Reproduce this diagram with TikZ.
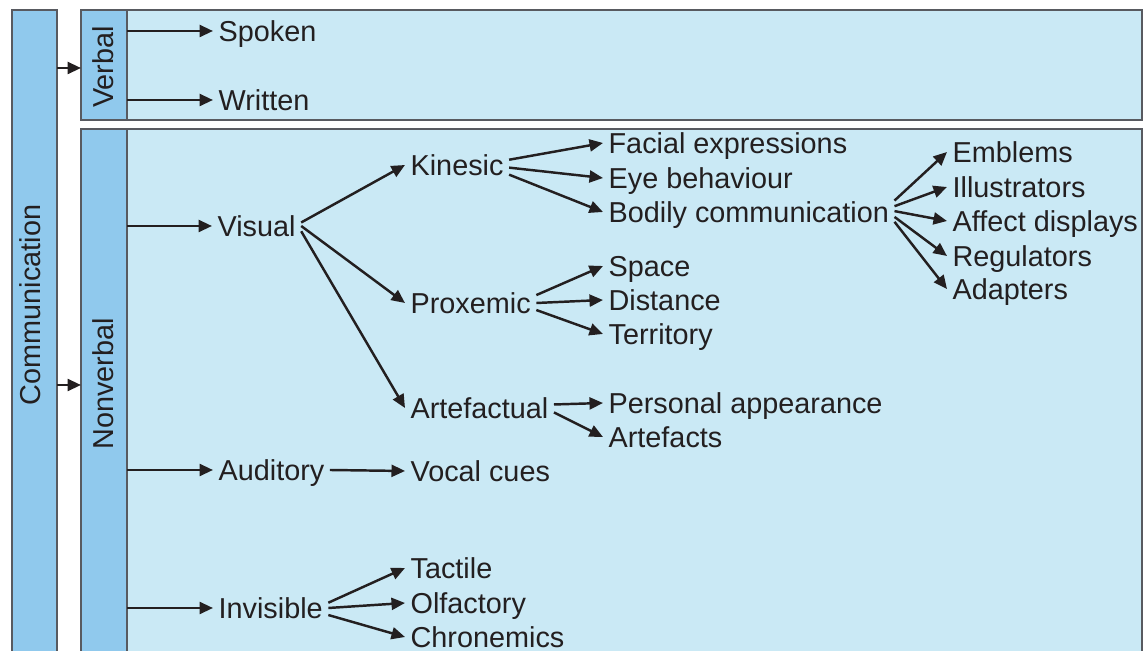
\documentclass[tikz,border=0pt]{standalone}
\usepackage{fontspec}
\setmainfont{Liberation Sans}
\usetikzlibrary{arrows.meta}
\definecolor{barBleu}{RGB}{144,201,237}
\definecolor{fondBleu}{RGB}{202,233,245}
\definecolor{bordGris}{RGB}{88,90,96}
\definecolor{encre}{RGB}{35,31,32}

\begin{document}
\begin{tikzpicture}[x=0.02cm, y=-0.02cm, font=\fontsize{16.4}{20}\selectfont,
    lbl/.style={anchor=west, inner xsep=3pt, inner ysep=0pt, text height=1.14em, text depth=0pt, text=encre},
    barlbl/.style={rotate=90, inner sep=0pt, text height=0.72em, text depth=0pt, text=encre},
    fleche/.style={-{Triangle[length=2.7mm,width=2.4mm]}, encre, line width=1.4pt}]

\useasboundingbox (0,0) rectangle (1144,651);
\clip (0,0) rectangle (1144,651);

\draw[fill=barBleu, draw=bordGris, line width=0.8pt] (12,10) rectangle (57,680);
\draw[fill=fondBleu, draw=bordGris, line width=0.8pt] (81,10) rectangle (1142,120);
\draw[fill=barBleu, draw=bordGris, line width=0.8pt] (81,10) rectangle (127,120);
\draw[fill=fondBleu, draw=bordGris, line width=0.8pt] (81,129) rectangle (1142,680);
\draw[fill=barBleu, draw=bordGris, line width=0.8pt] (81,129) rectangle (127,680);

\node[barlbl] (communication) at (34,305) {Communication};
\node[barlbl] (verbal) at (107,67) {Verbal};
\node[barlbl] (nonverbal) at (107,384) {Nonverbal};

\coordinate (commEdge) at (57,0);
\coordinate (toVerbal) at (81,68);
\coordinate (toNonverbal) at (81,385);
\coordinate (panelEdge) at (127,0);

\node[lbl] (spoken) at (213,31) {Spoken};
\node[lbl] (written) at (213,100) {Written};
\node[lbl] (visual) at (212,226) {Visual};
\node[lbl] (auditory) at (213,470) {Auditory};
\node[lbl] (invisible) at (213,608) {Invisible};

\node[lbl] (kinesic) at (405,165) {Kinesic};
\node[lbl] (proxemic) at (405,303) {Proxemic};
\node[lbl] (artefactual) at (405,408) {Artefactual};
\node[lbl] (vocal) at (405,471) {Vocal cues};
\node[lbl] (tactile) at (405,568) {Tactile};
\node[lbl] (olfactory) at (405,603) {Olfactory};
\node[lbl] (chronemics) at (405,637) {Chronemics};

\node[lbl] (facial) at (603,143) {Facial expressions};
\node[lbl] (eye) at (603,178) {Eye behaviour};
\node[lbl] (bodily) at (603,212) {Bodily communication};
\node[lbl] (space) at (603,266) {Space};
\node[lbl] (distance) at (603,300) {Distance};
\node[lbl] (territory) at (603,334) {Territory};
\node[lbl] (personal) at (603,403) {Personal appearance};
\node[lbl] (artefacts) at (603,437) {Artefacts};

\node[lbl] (emblems) at (947,152) {Emblems};
\node[lbl] (illustrators) at (947,187) {Illustrators};
\node[lbl] (affect) at (947,221) {Affect displays};
\node[lbl] (regulators) at (947,256) {Regulators};
\node[lbl] (adapters) at (947,289) {Adapters};

\draw[fleche] (commEdge |- toVerbal) -- (toVerbal);
\draw[fleche] (commEdge |- toNonverbal) -- (toNonverbal);

\draw[fleche] (panelEdge |- spoken) -- (spoken.west);
\draw[fleche] (panelEdge |- written) -- (written.west);
\draw[fleche] (panelEdge |- visual) -- (visual.west);
\draw[fleche] (panelEdge |- auditory) -- (auditory.west);
\draw[fleche] (panelEdge |- invisible) -- (invisible.west);

\draw[fleche] ([yshift=2pt]visual.east) -- (kinesic.west);
\draw[fleche] (visual.east) -- (proxemic.west);
\draw[fleche] ([yshift=-3pt]visual.east) -- (artefactual.west);
\draw[fleche] (auditory.east) -- (vocal.west);
\draw[fleche] ([yshift=3pt]invisible.east) -- (tactile.west);
\draw[fleche] (invisible.east) -- (olfactory.west);
\draw[fleche] ([yshift=-4pt]invisible.east) -- (chronemics.west);

\draw[fleche] ([yshift=3pt]kinesic.east) -- (facial.west);
\draw[fleche] ([yshift=-1.5pt]kinesic.east) -- (eye.west);
\draw[fleche] ([yshift=-5.5pt]kinesic.east) -- (bodily.west);
\draw[fleche] ([yshift=4.5pt]proxemic.east) -- (space.west);
\draw[fleche] (proxemic.east) -- (distance.west);
\draw[fleche] ([yshift=-4pt]proxemic.east) -- (territory.west);
\draw[fleche] ([yshift=2pt]artefactual.east) -- (personal.west);
\draw[fleche] ([yshift=-2.5pt]artefactual.east) -- (artefacts.west);

\draw[fleche] ([yshift=6.5pt]bodily.east) -- (emblems.west);
\draw[fleche] ([yshift=3.3pt]bodily.east) -- (illustrators.west);
\draw[fleche] ([yshift=0.5pt]bodily.east) -- (affect.west);
\draw[fleche] ([yshift=-2.8pt]bodily.east) -- (regulators.west);
\draw[fleche] ([yshift=-5.6pt]bodily.east) -- (adapters.west);

\end{tikzpicture}
\end{document}
